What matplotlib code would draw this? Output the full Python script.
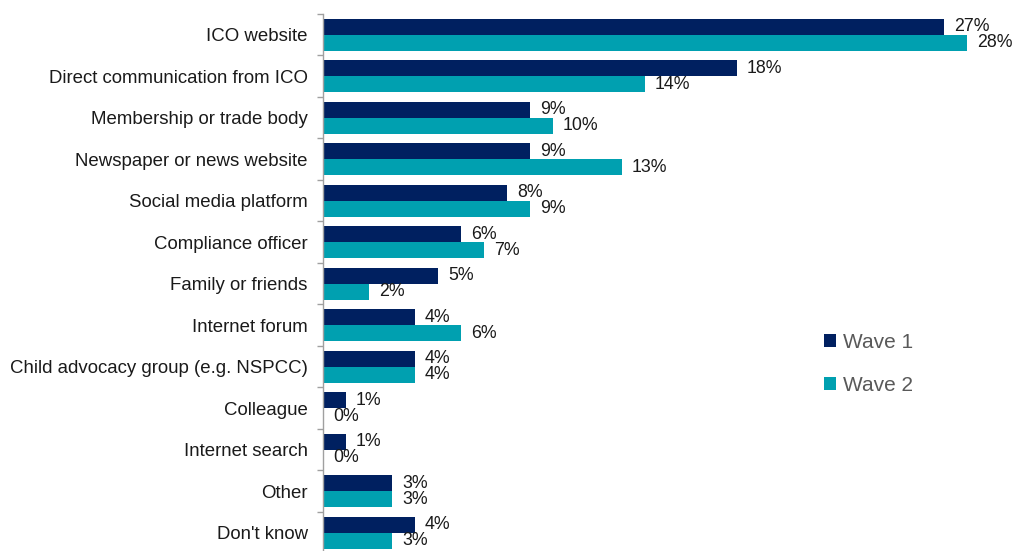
import numpy as np
import matplotlib.pyplot as plt
from matplotlib.ticker import FixedLocator, NullLocator

plt.rcParams['font.family'] = ['Liberation Sans', 'DejaVu Sans']

# Sources of information, top to bottom
sources = ['ICO website', 'Direct communication from ICO', 'Membership or trade body',
           'Newspaper or news website', 'Social media platform', 'Compliance officer',
           'Family or friends', 'Internet forum', 'Child advocacy group (e.g. NSPCC)',
           'Colleague', 'Internet search', 'Other', "Don't know"]
wave1 = [27, 18, 9, 9, 8, 6, 5, 4, 4, 1, 1, 3, 4]
wave2 = [28, 14, 10, 13, 9, 7, 2, 6, 4, 0, 0, 3, 3]

navy = '#002060'
teal = '#00A0B0'

fig = plt.figure(figsize=(10.13, 5.51), dpi=100)
ax = fig.add_axes([323 / 1013, 0, 1 - 323 / 1013, 1 - 14 / 551])

y = np.arange(len(sources))
h = 0.385
b1 = ax.barh(y - h / 2, wave1, height=h, color=navy, label='Wave 1')
b2 = ax.barh(y + h / 2, wave2, height=h, color=teal, label='Wave 2')

# value labels just past the end of each bar
for bars in (b1, b2):
    for bar in bars:
        w = bar.get_width()
        ax.annotate(f'{w:.0f}%', (w, bar.get_y() + bar.get_height() / 2),
                    xytext=(10, 0), textcoords='offset pixels',
                    va='center', ha='left', fontsize=12.8, color='#1a1a1a')

ax.set_xlim(0, 30)
ax.set_ylim(12.44, -0.5)

# category labels without ticks, boundary ticks on the axis
ax.set_yticks(y)
ax.set_yticklabels(sources, fontsize=13.4, color='#1a1a1a')
ax.tick_params(axis='y', which='major', length=0, pad=11)
ax.yaxis.set_minor_locator(FixedLocator(np.arange(-0.5, len(sources), 1)))
ax.tick_params(axis='y', which='minor', length=4, color='#a0a0a0', width=1)
ax.xaxis.set_major_locator(NullLocator())

for side in ['top', 'right', 'bottom']:
    ax.spines[side].set_visible(False)
ax.spines['left'].set_color('#a0a0a0')
ax.spines['left'].set_linewidth(1)

ax.legend(loc='upper left', bbox_to_anchor=(805 / 1013, 1 - 314 / 551),
          bbox_transform=fig.transFigure, frameon=False, fontsize=15,
          handlelength=0.6, handleheight=0.6, handletextpad=0.3,
          labelspacing=1.15, labelcolor='#595959')

fig.savefig('out.png', dpi=100)
